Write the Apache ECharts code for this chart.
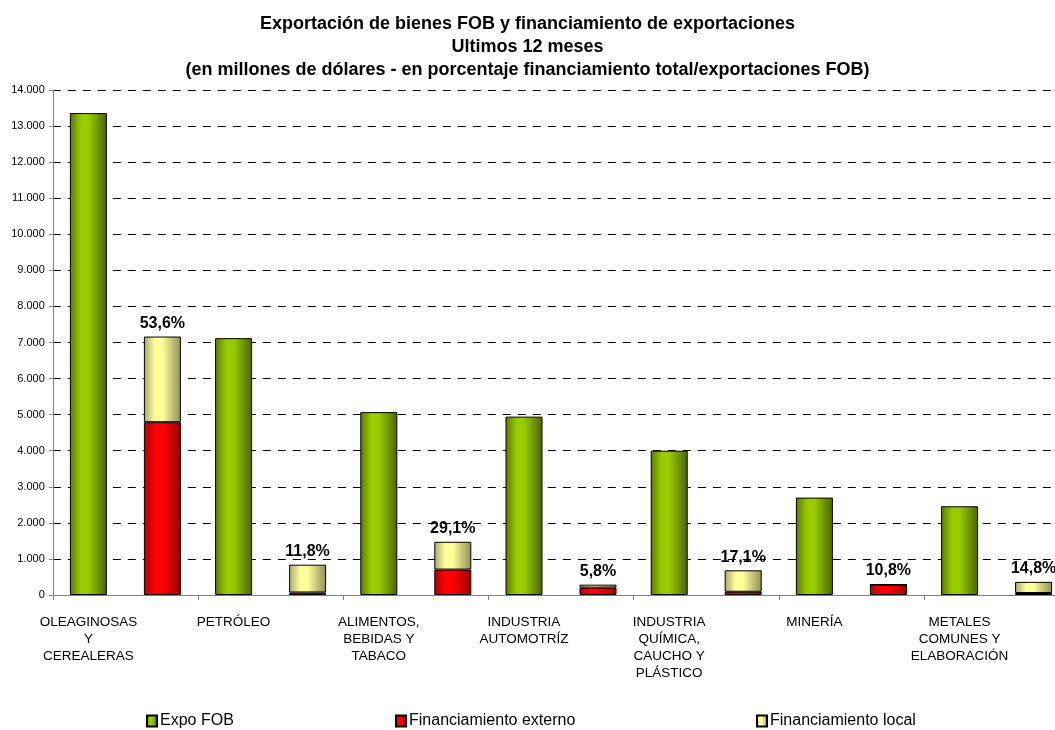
<!DOCTYPE html>
<html>
<head>
<meta charset="utf-8">
<script src="https://cdn.jsdelivr.net/npm/echarts@6/dist/echarts.min.js"></script>
<style>
html,body{margin:0;padding:0;background:#fff;}
#chart{width:1055px;height:730px;}
</style>
</head>
<body>
<div id="chart"></div>
<script>
var categories = [
  'OLEAGINOSAS\nY\nCEREALERAS',
  'PETRÓLEO',
  'ALIMENTOS,\nBEBIDAS Y\nTABACO',
  'INDUSTRIA\nAUTOMOTRÍZ',
  'INDUSTRIA\nQUÍMICA,\nCAUCHO Y\nPLÁSTICO',
  'MINERÍA',
  'METALES\nCOMUNES Y\nELABORACIÓN'
];
var expoFOB = [13360, 7120, 5070, 4945, 4000, 2700, 2460];
var finExterno = [4790, 70, 705, 205, 90, 285, 55];
var finLocal = [2375, 770, 770, 82, 594, 7, 309];
var pctLabels = ['53,6%', '11,8%', '29,1%', '5,8%', '17,1%', '10,8%', '14,8%'];

var FONT = "'Liberation Sans', Arial, sans-serif";

function grad(edgeL, mid, edgeR) {
  return new echarts.graphic.LinearGradient(0, 0, 1, 0, [
    {offset: 0, color: edgeL},
    {offset: 0.3, color: mid},
    {offset: 0.5, color: mid},
    {offset: 1, color: edgeR}
  ]);
}
var greenGrad = grad('#5a7a00', '#99cc00', '#4a6400');
var redGrad = grad('#b80000', '#ff0000', '#9a0000');
var yellowGrad = grad('#a8a870', '#ffff99', '#8f8f5c');

var chart = echarts.init(document.getElementById('chart'), null, {renderer: 'canvas'});

function legendAt(left, name) {
  return {
    left: left, top: 708,
    icon: 'rect',
    itemWidth: 10, itemHeight: 11, itemGap: 0,
    data: [name],
    textStyle: {fontFamily: FONT, fontSize: 16, color: '#000', padding: [0, 0, 0, -2]},
    selectedMode: false
  };
}

chart.setOption({
  animation: false,
  backgroundColor: '#fff',
  textStyle: {fontFamily: FONT},
  title: {
    text: 'Exportación de bienes FOB y financiamiento de exportaciones\nUltimos 12 meses\n(en millones de dólares - en porcentaje financiamiento total/exportaciones FOB)',
    left: 'center', top: 8,
    textStyle: {fontFamily: FONT, fontSize: 18, fontWeight: 'bold', color: '#000', lineHeight: 23}
  },
  legend: [
    legendAt(141, 'Expo FOB'),
    legendAt(390, 'Financiamiento externo'),
    legendAt(751, 'Financiamiento local')
  ],
  grid: {left: 52.8, width: 1016.4, top: 90, bottom: 135, containLabel: false, outerBoundsMode: 'none'},
  xAxis: {
    type: 'category',
    data: categories,
    axisLine: {lineStyle: {color: '#808080', width: 1}},
    axisTick: {show: true, interval: 0, length: 5, lineStyle: {color: '#808080'}},
    axisLabel: {
      interval: 0, margin: 19, color: '#000',
      fontFamily: FONT, fontSize: 13.5, lineHeight: 17,
      padding: [0, 74, 0, 0]
    }
  },
  yAxis: {
    type: 'value', min: 0, max: 14000, interval: 1000,
    axisLine: {show: true, lineStyle: {color: '#808080', width: 1}},
    axisTick: {show: true, length: 4, lineStyle: {color: '#808080'}},
    axisLabel: {
      margin: 8, color: '#000', fontFamily: FONT, fontSize: 11,
      formatter: function (v) { return v.toString().replace(/\B(?=(\d{3})+(?!\d))/g, '.'); }
    },
    splitLine: {show: true, lineStyle: {color: '#000', width: 1, type: [8, 7]}}
  },
  series: [
    {
      name: 'Expo FOB', type: 'bar', data: expoFOB,
      barWidth: 37, barGap: '100%',
      itemStyle: {color: greenGrad, borderColor: '#000', borderWidth: 1}
    },
    {
      name: 'Financiamiento externo', type: 'bar', stack: 'fin', data: finExterno,
      barWidth: 37,
      itemStyle: {color: redGrad, borderColor: '#000', borderWidth: 1}
    },
    {
      name: 'Financiamiento local', type: 'bar', stack: 'fin', data: finLocal,
      barWidth: 37,
      itemStyle: {color: yellowGrad, borderColor: '#000', borderWidth: 1},
      label: {
        show: true, position: 'top', distance: 5,
        fontFamily: FONT, fontSize: 16, fontWeight: 'bold', color: '#000',
        formatter: function (p) { return pctLabels[p.dataIndex]; }
      }
    }
  ]
});
</script>
</body>
</html>
